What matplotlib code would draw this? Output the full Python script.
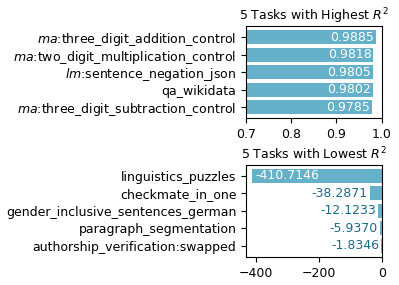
import matplotlib
matplotlib.use("Agg")
import matplotlib.pyplot as plt
import numpy as np

top_tasks = [r"$ma$:three_digit_addition_control",
             r"$ma$:two_digit_multiplication_control",
             r"$lm$:sentence_negation_json",
             "qa_wikidata",
             r"$ma$:three_digit_subtraction_control"]
top_r2 = [0.9885, 0.9818, 0.9805, 0.9802, 0.9785]

low_tasks = ["linguistics_puzzles",
             "checkmate_in_one",
             "gender_inclusive_sentences_german",
             "paragraph_segmentation",
             "authorship_verification:swapped"]
low_r2 = [-410.7146, -38.2871, -12.1233, -5.9370, -1.8346]

bar_color = "#65b1c9"
dark_text = "#1b6c88"
fs = 9.0

fig = plt.figure(figsize=(3.99, 2.85), dpi=100)
ax1 = fig.add_axes([246/399, 1-118.2/285, 135.7/399, 92.3/285])
ax2 = fig.add_axes([246/399, 1-256.9/285, 135.7/399, 92.3/285])

y = np.arange(len(top_tasks))
ax1.barh(y, top_r2, color=bar_color, height=0.8)
ax1.set_yticks(y)
ax1.set_yticklabels(top_tasks, fontsize=fs)
ax1.invert_yaxis()
ax1.set_xlim(0.7, 1.0)
ax1.set_xticks([0.7, 0.8, 0.9, 1.0])
ax1.tick_params(axis='x', labelsize=fs)
ax1.set_title(r"5 Tasks with Highest $R^2$", fontsize=fs, pad=4)
for yi, v in zip(y, top_r2):
    ax1.annotate(f"{v:.4f}", xy=(v, yi), xytext=(-1.5, 0), textcoords="offset points",
                 ha="right", va="center", color="white", fontsize=fs)

y2 = np.arange(len(low_tasks))
ax2.barh(y2, low_r2, color=bar_color, height=0.8)
ax2.set_yticks(y2)
ax2.set_yticklabels(low_tasks, fontsize=fs)
ax2.invert_yaxis()
lo = min(low_r2)
ax2.set_xlim(lo + 0.05 * lo, 0)
ax2.set_xticks([-400, -200, 0])
ax2.tick_params(axis='x', labelsize=fs)
ax2.set_title(r"5 Tasks with Lowest $R^2$", fontsize=fs, pad=4)
for i, (yi, v) in enumerate(zip(y2, low_r2)):
    if i == 0:
        ax2.annotate(f"{v:.4f}", xy=(v, yi), xytext=(2, 0), textcoords="offset points",
                     ha="left", va="center", color="white", fontsize=fs)
    else:
        ax2.annotate(f"{v:.4f}", xy=(v, yi), xytext=(-1.5, 0), textcoords="offset points",
                     ha="right", va="center", color=dark_text, fontsize=fs)

fig.savefig("out.png", dpi=100)
